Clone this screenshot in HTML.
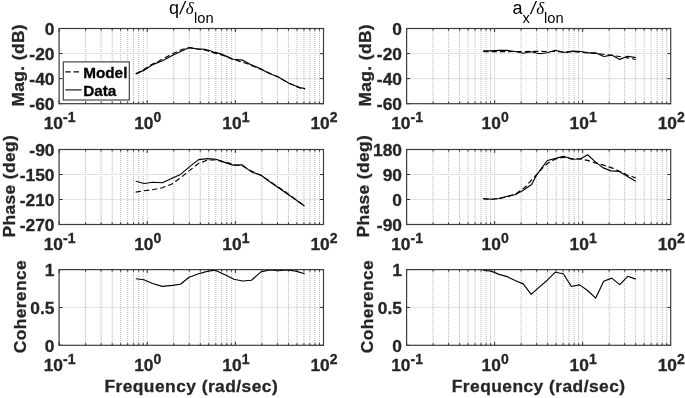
<!DOCTYPE html>
<html><head><meta charset="utf-8"><title>Frequency response</title>
<style>
html,body{margin:0;padding:0;background:#fff;}
svg{display:block}
text{font-family:"Liberation Sans",sans-serif;fill:#262626;}
.b{font-weight:bold;font-size:17.4px;stroke:#262626;stroke-width:0.3px;}
.l{font-size:17.4px;letter-spacing:0.38px;}
.e{font-size:14px;}
.g{font-size:15.3px;fill:#000;stroke:#000;}
.t{font-size:18px;fill:#000;}
.s{font-size:14.7px;}
.d{font-family:"Liberation Serif",serif;font-style:italic;font-size:17px;}
</style></head><body>
<svg width="685" height="398" viewBox="0 0 685 398">
<rect width="685" height="398" fill="#fff"/>
<rect x="59.1" y="28.5" width="264.4" height="75.2" fill="#fff"/>
<line x1="85.63" y1="29" x2="85.63" y2="103.7" stroke="#adadad" stroke-width="0.9" stroke-dasharray="1 1"/>
<line x1="101.15" y1="29" x2="101.15" y2="103.7" stroke="#adadad" stroke-width="0.9" stroke-dasharray="1 1"/>
<line x1="112.16" y1="29" x2="112.16" y2="103.7" stroke="#adadad" stroke-width="0.9" stroke-dasharray="1 1"/>
<line x1="120.70" y1="29" x2="120.70" y2="103.7" stroke="#adadad" stroke-width="0.9" stroke-dasharray="1 1"/>
<line x1="127.68" y1="29" x2="127.68" y2="103.7" stroke="#adadad" stroke-width="0.9" stroke-dasharray="1 1"/>
<line x1="133.58" y1="29" x2="133.58" y2="103.7" stroke="#adadad" stroke-width="0.9" stroke-dasharray="1 1"/>
<line x1="138.69" y1="29" x2="138.69" y2="103.7" stroke="#adadad" stroke-width="0.9" stroke-dasharray="1 1"/>
<line x1="143.20" y1="29" x2="143.20" y2="103.7" stroke="#adadad" stroke-width="0.9" stroke-dasharray="1 1"/>
<line x1="173.76" y1="29" x2="173.76" y2="103.7" stroke="#adadad" stroke-width="0.9" stroke-dasharray="1 1"/>
<line x1="189.28" y1="29" x2="189.28" y2="103.7" stroke="#adadad" stroke-width="0.9" stroke-dasharray="1 1"/>
<line x1="200.29" y1="29" x2="200.29" y2="103.7" stroke="#adadad" stroke-width="0.9" stroke-dasharray="1 1"/>
<line x1="208.84" y1="29" x2="208.84" y2="103.7" stroke="#adadad" stroke-width="0.9" stroke-dasharray="1 1"/>
<line x1="215.81" y1="29" x2="215.81" y2="103.7" stroke="#adadad" stroke-width="0.9" stroke-dasharray="1 1"/>
<line x1="221.71" y1="29" x2="221.71" y2="103.7" stroke="#adadad" stroke-width="0.9" stroke-dasharray="1 1"/>
<line x1="226.83" y1="29" x2="226.83" y2="103.7" stroke="#adadad" stroke-width="0.9" stroke-dasharray="1 1"/>
<line x1="231.33" y1="29" x2="231.33" y2="103.7" stroke="#adadad" stroke-width="0.9" stroke-dasharray="1 1"/>
<line x1="261.90" y1="29" x2="261.90" y2="103.7" stroke="#adadad" stroke-width="0.9" stroke-dasharray="1 1"/>
<line x1="277.42" y1="29" x2="277.42" y2="103.7" stroke="#adadad" stroke-width="0.9" stroke-dasharray="1 1"/>
<line x1="288.43" y1="29" x2="288.43" y2="103.7" stroke="#adadad" stroke-width="0.9" stroke-dasharray="1 1"/>
<line x1="296.97" y1="29" x2="296.97" y2="103.7" stroke="#adadad" stroke-width="0.9" stroke-dasharray="1 1"/>
<line x1="303.95" y1="29" x2="303.95" y2="103.7" stroke="#adadad" stroke-width="0.9" stroke-dasharray="1 1"/>
<line x1="309.85" y1="29" x2="309.85" y2="103.7" stroke="#adadad" stroke-width="0.9" stroke-dasharray="1 1"/>
<line x1="314.96" y1="29" x2="314.96" y2="103.7" stroke="#adadad" stroke-width="0.9" stroke-dasharray="1 1"/>
<line x1="319.47" y1="29" x2="319.47" y2="103.7" stroke="#adadad" stroke-width="0.9" stroke-dasharray="1 1"/>
<line x1="147.23" y1="28.5" x2="147.23" y2="103.7" stroke="#e2e2e2" stroke-width="1"/>
<line x1="235.37" y1="28.5" x2="235.37" y2="103.7" stroke="#e2e2e2" stroke-width="1"/>
<line x1="59.1" y1="53.57" x2="323.5" y2="53.57" stroke="#e2e2e2" stroke-width="1"/>
<line x1="59.1" y1="78.63" x2="323.5" y2="78.63" stroke="#e2e2e2" stroke-width="1"/>
<polyline points="135.8,73.9 143.8,69.5 152.1,64.2 159.0,60.9 166.6,56.9 174.2,52.9 181.8,49.5 189.4,47.6 196.4,48.9 204.7,50.0 210.2,51.6 215.7,53.4 223.3,55.5 231.6,58.9 239.1,61.1 247.4,63.8 261.8,69.6 278.4,77.1 288.9,83.3 301.7,88.6 305.1,88.9" fill="none" stroke="#000" stroke-width="1.15" stroke-linejoin="round" stroke-dasharray="5.3 3"/>
<polyline points="135.8,73.9 143.8,70.4 152.1,64.9 162.5,60.7 174.2,54.5 189.4,47.6 196.4,48.7 204.7,49.4 210.2,50.8 215.0,52.7 215.0,52.4 221.0,53.9 227.1,56.6 233.1,59.2 242.2,60.1 249.7,64.1 261.8,69.4 269.3,73.5 278.4,77.0 288.9,83.3 299.5,87.5 305.1,88.6" fill="none" stroke="#000" stroke-width="1.15" stroke-linejoin="round"/>
<line x1="59.10" y1="103.7" x2="59.10" y2="100.3" stroke="#262626" stroke-width="1"/>
<line x1="59.10" y1="28.5" x2="59.10" y2="31.9" stroke="#262626" stroke-width="1"/>
<line x1="85.63" y1="103.7" x2="85.63" y2="101.60000000000001" stroke="#262626" stroke-width="1"/>
<line x1="85.63" y1="28.5" x2="85.63" y2="30.6" stroke="#262626" stroke-width="1"/>
<line x1="101.15" y1="103.7" x2="101.15" y2="101.60000000000001" stroke="#262626" stroke-width="1"/>
<line x1="101.15" y1="28.5" x2="101.15" y2="30.6" stroke="#262626" stroke-width="1"/>
<line x1="112.16" y1="103.7" x2="112.16" y2="101.60000000000001" stroke="#262626" stroke-width="1"/>
<line x1="112.16" y1="28.5" x2="112.16" y2="30.6" stroke="#262626" stroke-width="1"/>
<line x1="120.70" y1="103.7" x2="120.70" y2="101.60000000000001" stroke="#262626" stroke-width="1"/>
<line x1="120.70" y1="28.5" x2="120.70" y2="30.6" stroke="#262626" stroke-width="1"/>
<line x1="127.68" y1="103.7" x2="127.68" y2="101.60000000000001" stroke="#262626" stroke-width="1"/>
<line x1="127.68" y1="28.5" x2="127.68" y2="30.6" stroke="#262626" stroke-width="1"/>
<line x1="133.58" y1="103.7" x2="133.58" y2="101.60000000000001" stroke="#262626" stroke-width="1"/>
<line x1="133.58" y1="28.5" x2="133.58" y2="30.6" stroke="#262626" stroke-width="1"/>
<line x1="138.69" y1="103.7" x2="138.69" y2="101.60000000000001" stroke="#262626" stroke-width="1"/>
<line x1="138.69" y1="28.5" x2="138.69" y2="30.6" stroke="#262626" stroke-width="1"/>
<line x1="143.20" y1="103.7" x2="143.20" y2="101.60000000000001" stroke="#262626" stroke-width="1"/>
<line x1="143.20" y1="28.5" x2="143.20" y2="30.6" stroke="#262626" stroke-width="1"/>
<line x1="147.23" y1="103.7" x2="147.23" y2="100.3" stroke="#262626" stroke-width="1"/>
<line x1="147.23" y1="28.5" x2="147.23" y2="31.9" stroke="#262626" stroke-width="1"/>
<line x1="173.76" y1="103.7" x2="173.76" y2="101.60000000000001" stroke="#262626" stroke-width="1"/>
<line x1="173.76" y1="28.5" x2="173.76" y2="30.6" stroke="#262626" stroke-width="1"/>
<line x1="189.28" y1="103.7" x2="189.28" y2="101.60000000000001" stroke="#262626" stroke-width="1"/>
<line x1="189.28" y1="28.5" x2="189.28" y2="30.6" stroke="#262626" stroke-width="1"/>
<line x1="200.29" y1="103.7" x2="200.29" y2="101.60000000000001" stroke="#262626" stroke-width="1"/>
<line x1="200.29" y1="28.5" x2="200.29" y2="30.6" stroke="#262626" stroke-width="1"/>
<line x1="208.84" y1="103.7" x2="208.84" y2="101.60000000000001" stroke="#262626" stroke-width="1"/>
<line x1="208.84" y1="28.5" x2="208.84" y2="30.6" stroke="#262626" stroke-width="1"/>
<line x1="215.81" y1="103.7" x2="215.81" y2="101.60000000000001" stroke="#262626" stroke-width="1"/>
<line x1="215.81" y1="28.5" x2="215.81" y2="30.6" stroke="#262626" stroke-width="1"/>
<line x1="221.71" y1="103.7" x2="221.71" y2="101.60000000000001" stroke="#262626" stroke-width="1"/>
<line x1="221.71" y1="28.5" x2="221.71" y2="30.6" stroke="#262626" stroke-width="1"/>
<line x1="226.83" y1="103.7" x2="226.83" y2="101.60000000000001" stroke="#262626" stroke-width="1"/>
<line x1="226.83" y1="28.5" x2="226.83" y2="30.6" stroke="#262626" stroke-width="1"/>
<line x1="231.33" y1="103.7" x2="231.33" y2="101.60000000000001" stroke="#262626" stroke-width="1"/>
<line x1="231.33" y1="28.5" x2="231.33" y2="30.6" stroke="#262626" stroke-width="1"/>
<line x1="235.37" y1="103.7" x2="235.37" y2="100.3" stroke="#262626" stroke-width="1"/>
<line x1="235.37" y1="28.5" x2="235.37" y2="31.9" stroke="#262626" stroke-width="1"/>
<line x1="261.90" y1="103.7" x2="261.90" y2="101.60000000000001" stroke="#262626" stroke-width="1"/>
<line x1="261.90" y1="28.5" x2="261.90" y2="30.6" stroke="#262626" stroke-width="1"/>
<line x1="277.42" y1="103.7" x2="277.42" y2="101.60000000000001" stroke="#262626" stroke-width="1"/>
<line x1="277.42" y1="28.5" x2="277.42" y2="30.6" stroke="#262626" stroke-width="1"/>
<line x1="288.43" y1="103.7" x2="288.43" y2="101.60000000000001" stroke="#262626" stroke-width="1"/>
<line x1="288.43" y1="28.5" x2="288.43" y2="30.6" stroke="#262626" stroke-width="1"/>
<line x1="296.97" y1="103.7" x2="296.97" y2="101.60000000000001" stroke="#262626" stroke-width="1"/>
<line x1="296.97" y1="28.5" x2="296.97" y2="30.6" stroke="#262626" stroke-width="1"/>
<line x1="303.95" y1="103.7" x2="303.95" y2="101.60000000000001" stroke="#262626" stroke-width="1"/>
<line x1="303.95" y1="28.5" x2="303.95" y2="30.6" stroke="#262626" stroke-width="1"/>
<line x1="309.85" y1="103.7" x2="309.85" y2="101.60000000000001" stroke="#262626" stroke-width="1"/>
<line x1="309.85" y1="28.5" x2="309.85" y2="30.6" stroke="#262626" stroke-width="1"/>
<line x1="314.96" y1="103.7" x2="314.96" y2="101.60000000000001" stroke="#262626" stroke-width="1"/>
<line x1="314.96" y1="28.5" x2="314.96" y2="30.6" stroke="#262626" stroke-width="1"/>
<line x1="319.47" y1="103.7" x2="319.47" y2="101.60000000000001" stroke="#262626" stroke-width="1"/>
<line x1="319.47" y1="28.5" x2="319.47" y2="30.6" stroke="#262626" stroke-width="1"/>
<line x1="59.1" y1="28.50" x2="62.5" y2="28.50" stroke="#262626" stroke-width="1"/>
<line x1="323.5" y1="28.50" x2="320.1" y2="28.50" stroke="#262626" stroke-width="1"/>
<text x="54.5" y="34.80" text-anchor="end" class="b">0</text>
<line x1="59.1" y1="53.57" x2="62.5" y2="53.57" stroke="#262626" stroke-width="1"/>
<line x1="323.5" y1="53.57" x2="320.1" y2="53.57" stroke="#262626" stroke-width="1"/>
<text x="54.5" y="59.87" text-anchor="end" class="b">-20</text>
<line x1="59.1" y1="78.63" x2="62.5" y2="78.63" stroke="#262626" stroke-width="1"/>
<line x1="323.5" y1="78.63" x2="320.1" y2="78.63" stroke="#262626" stroke-width="1"/>
<text x="54.5" y="84.93" text-anchor="end" class="b">-40</text>
<line x1="59.1" y1="103.70" x2="62.5" y2="103.70" stroke="#262626" stroke-width="1"/>
<line x1="323.5" y1="103.70" x2="320.1" y2="103.70" stroke="#262626" stroke-width="1"/>
<text x="54.5" y="110.00" text-anchor="end" class="b">-60</text>
<rect x="59.1" y="28.5" width="264.4" height="75.2" fill="none" stroke="#3c3c3c" stroke-width="1.2"/>
<text x="59.60" y="129.20" text-anchor="middle" class="b">10<tspan dy="-7.1" class="e">-1</tspan></text>
<text x="147.73" y="129.20" text-anchor="middle" class="b">10<tspan dy="-7.1" class="e">0</tspan></text>
<text x="235.87" y="129.20" text-anchor="middle" class="b">10<tspan dy="-7.1" class="e">1</tspan></text>
<text x="324.00" y="129.20" text-anchor="middle" class="b">10<tspan dy="-7.1" class="e">2</tspan></text>
<text transform="translate(23.6,65.3) rotate(-90)" text-anchor="middle" class="b l">Mag. (dB)</text>
<rect x="59.1" y="149.5" width="264.4" height="75.0" fill="#fff"/>
<line x1="85.63" y1="150" x2="85.63" y2="224.5" stroke="#adadad" stroke-width="0.9" stroke-dasharray="1 1"/>
<line x1="101.15" y1="150" x2="101.15" y2="224.5" stroke="#adadad" stroke-width="0.9" stroke-dasharray="1 1"/>
<line x1="112.16" y1="150" x2="112.16" y2="224.5" stroke="#adadad" stroke-width="0.9" stroke-dasharray="1 1"/>
<line x1="120.70" y1="150" x2="120.70" y2="224.5" stroke="#adadad" stroke-width="0.9" stroke-dasharray="1 1"/>
<line x1="127.68" y1="150" x2="127.68" y2="224.5" stroke="#adadad" stroke-width="0.9" stroke-dasharray="1 1"/>
<line x1="133.58" y1="150" x2="133.58" y2="224.5" stroke="#adadad" stroke-width="0.9" stroke-dasharray="1 1"/>
<line x1="138.69" y1="150" x2="138.69" y2="224.5" stroke="#adadad" stroke-width="0.9" stroke-dasharray="1 1"/>
<line x1="143.20" y1="150" x2="143.20" y2="224.5" stroke="#adadad" stroke-width="0.9" stroke-dasharray="1 1"/>
<line x1="173.76" y1="150" x2="173.76" y2="224.5" stroke="#adadad" stroke-width="0.9" stroke-dasharray="1 1"/>
<line x1="189.28" y1="150" x2="189.28" y2="224.5" stroke="#adadad" stroke-width="0.9" stroke-dasharray="1 1"/>
<line x1="200.29" y1="150" x2="200.29" y2="224.5" stroke="#adadad" stroke-width="0.9" stroke-dasharray="1 1"/>
<line x1="208.84" y1="150" x2="208.84" y2="224.5" stroke="#adadad" stroke-width="0.9" stroke-dasharray="1 1"/>
<line x1="215.81" y1="150" x2="215.81" y2="224.5" stroke="#adadad" stroke-width="0.9" stroke-dasharray="1 1"/>
<line x1="221.71" y1="150" x2="221.71" y2="224.5" stroke="#adadad" stroke-width="0.9" stroke-dasharray="1 1"/>
<line x1="226.83" y1="150" x2="226.83" y2="224.5" stroke="#adadad" stroke-width="0.9" stroke-dasharray="1 1"/>
<line x1="231.33" y1="150" x2="231.33" y2="224.5" stroke="#adadad" stroke-width="0.9" stroke-dasharray="1 1"/>
<line x1="261.90" y1="150" x2="261.90" y2="224.5" stroke="#adadad" stroke-width="0.9" stroke-dasharray="1 1"/>
<line x1="277.42" y1="150" x2="277.42" y2="224.5" stroke="#adadad" stroke-width="0.9" stroke-dasharray="1 1"/>
<line x1="288.43" y1="150" x2="288.43" y2="224.5" stroke="#adadad" stroke-width="0.9" stroke-dasharray="1 1"/>
<line x1="296.97" y1="150" x2="296.97" y2="224.5" stroke="#adadad" stroke-width="0.9" stroke-dasharray="1 1"/>
<line x1="303.95" y1="150" x2="303.95" y2="224.5" stroke="#adadad" stroke-width="0.9" stroke-dasharray="1 1"/>
<line x1="309.85" y1="150" x2="309.85" y2="224.5" stroke="#adadad" stroke-width="0.9" stroke-dasharray="1 1"/>
<line x1="314.96" y1="150" x2="314.96" y2="224.5" stroke="#adadad" stroke-width="0.9" stroke-dasharray="1 1"/>
<line x1="319.47" y1="150" x2="319.47" y2="224.5" stroke="#adadad" stroke-width="0.9" stroke-dasharray="1 1"/>
<line x1="147.23" y1="149.5" x2="147.23" y2="224.5" stroke="#e2e2e2" stroke-width="1"/>
<line x1="235.37" y1="149.5" x2="235.37" y2="224.5" stroke="#e2e2e2" stroke-width="1"/>
<line x1="59.1" y1="174.50" x2="323.5" y2="174.50" stroke="#e2e2e2" stroke-width="1"/>
<line x1="59.1" y1="199.50" x2="323.5" y2="199.50" stroke="#e2e2e2" stroke-width="1"/>
<polyline points="135.7,192.1 144.3,190.7 152.6,189.7 162.4,187.7 171.5,184.2 180.5,177.9 190.3,169.9 198.6,163.4 207.7,160.1 216.0,159.8 223.5,161.9 229.1,163.1 235.1,165.1 242.1,165.7 252.2,171.4 261.2,175.6 268.3,180.2 274.3,184.4 282.4,189.7 288.4,194.1 296.5,200.1 304.5,206.0" fill="none" stroke="#000" stroke-width="1.15" stroke-linejoin="round" stroke-dasharray="5.3 3"/>
<polyline points="135.7,181.2 144.3,183.5 152.6,182.2 162.4,182.7 171.5,178.5 180.5,174.4 190.3,166.1 198.6,159.6 207.7,158.6 216.0,159.3 223.5,161.9 227.0,163.1 233.1,165.1 242.1,164.7 246.2,168.1 252.2,172.2 261.2,175.2 268.3,180.8 276.3,186.2 286.4,193.3 296.5,200.3 304.5,206.0" fill="none" stroke="#000" stroke-width="1.15" stroke-linejoin="round"/>
<line x1="59.10" y1="224.5" x2="59.10" y2="221.1" stroke="#262626" stroke-width="1"/>
<line x1="59.10" y1="149.5" x2="59.10" y2="152.9" stroke="#262626" stroke-width="1"/>
<line x1="85.63" y1="224.5" x2="85.63" y2="222.4" stroke="#262626" stroke-width="1"/>
<line x1="85.63" y1="149.5" x2="85.63" y2="151.6" stroke="#262626" stroke-width="1"/>
<line x1="101.15" y1="224.5" x2="101.15" y2="222.4" stroke="#262626" stroke-width="1"/>
<line x1="101.15" y1="149.5" x2="101.15" y2="151.6" stroke="#262626" stroke-width="1"/>
<line x1="112.16" y1="224.5" x2="112.16" y2="222.4" stroke="#262626" stroke-width="1"/>
<line x1="112.16" y1="149.5" x2="112.16" y2="151.6" stroke="#262626" stroke-width="1"/>
<line x1="120.70" y1="224.5" x2="120.70" y2="222.4" stroke="#262626" stroke-width="1"/>
<line x1="120.70" y1="149.5" x2="120.70" y2="151.6" stroke="#262626" stroke-width="1"/>
<line x1="127.68" y1="224.5" x2="127.68" y2="222.4" stroke="#262626" stroke-width="1"/>
<line x1="127.68" y1="149.5" x2="127.68" y2="151.6" stroke="#262626" stroke-width="1"/>
<line x1="133.58" y1="224.5" x2="133.58" y2="222.4" stroke="#262626" stroke-width="1"/>
<line x1="133.58" y1="149.5" x2="133.58" y2="151.6" stroke="#262626" stroke-width="1"/>
<line x1="138.69" y1="224.5" x2="138.69" y2="222.4" stroke="#262626" stroke-width="1"/>
<line x1="138.69" y1="149.5" x2="138.69" y2="151.6" stroke="#262626" stroke-width="1"/>
<line x1="143.20" y1="224.5" x2="143.20" y2="222.4" stroke="#262626" stroke-width="1"/>
<line x1="143.20" y1="149.5" x2="143.20" y2="151.6" stroke="#262626" stroke-width="1"/>
<line x1="147.23" y1="224.5" x2="147.23" y2="221.1" stroke="#262626" stroke-width="1"/>
<line x1="147.23" y1="149.5" x2="147.23" y2="152.9" stroke="#262626" stroke-width="1"/>
<line x1="173.76" y1="224.5" x2="173.76" y2="222.4" stroke="#262626" stroke-width="1"/>
<line x1="173.76" y1="149.5" x2="173.76" y2="151.6" stroke="#262626" stroke-width="1"/>
<line x1="189.28" y1="224.5" x2="189.28" y2="222.4" stroke="#262626" stroke-width="1"/>
<line x1="189.28" y1="149.5" x2="189.28" y2="151.6" stroke="#262626" stroke-width="1"/>
<line x1="200.29" y1="224.5" x2="200.29" y2="222.4" stroke="#262626" stroke-width="1"/>
<line x1="200.29" y1="149.5" x2="200.29" y2="151.6" stroke="#262626" stroke-width="1"/>
<line x1="208.84" y1="224.5" x2="208.84" y2="222.4" stroke="#262626" stroke-width="1"/>
<line x1="208.84" y1="149.5" x2="208.84" y2="151.6" stroke="#262626" stroke-width="1"/>
<line x1="215.81" y1="224.5" x2="215.81" y2="222.4" stroke="#262626" stroke-width="1"/>
<line x1="215.81" y1="149.5" x2="215.81" y2="151.6" stroke="#262626" stroke-width="1"/>
<line x1="221.71" y1="224.5" x2="221.71" y2="222.4" stroke="#262626" stroke-width="1"/>
<line x1="221.71" y1="149.5" x2="221.71" y2="151.6" stroke="#262626" stroke-width="1"/>
<line x1="226.83" y1="224.5" x2="226.83" y2="222.4" stroke="#262626" stroke-width="1"/>
<line x1="226.83" y1="149.5" x2="226.83" y2="151.6" stroke="#262626" stroke-width="1"/>
<line x1="231.33" y1="224.5" x2="231.33" y2="222.4" stroke="#262626" stroke-width="1"/>
<line x1="231.33" y1="149.5" x2="231.33" y2="151.6" stroke="#262626" stroke-width="1"/>
<line x1="235.37" y1="224.5" x2="235.37" y2="221.1" stroke="#262626" stroke-width="1"/>
<line x1="235.37" y1="149.5" x2="235.37" y2="152.9" stroke="#262626" stroke-width="1"/>
<line x1="261.90" y1="224.5" x2="261.90" y2="222.4" stroke="#262626" stroke-width="1"/>
<line x1="261.90" y1="149.5" x2="261.90" y2="151.6" stroke="#262626" stroke-width="1"/>
<line x1="277.42" y1="224.5" x2="277.42" y2="222.4" stroke="#262626" stroke-width="1"/>
<line x1="277.42" y1="149.5" x2="277.42" y2="151.6" stroke="#262626" stroke-width="1"/>
<line x1="288.43" y1="224.5" x2="288.43" y2="222.4" stroke="#262626" stroke-width="1"/>
<line x1="288.43" y1="149.5" x2="288.43" y2="151.6" stroke="#262626" stroke-width="1"/>
<line x1="296.97" y1="224.5" x2="296.97" y2="222.4" stroke="#262626" stroke-width="1"/>
<line x1="296.97" y1="149.5" x2="296.97" y2="151.6" stroke="#262626" stroke-width="1"/>
<line x1="303.95" y1="224.5" x2="303.95" y2="222.4" stroke="#262626" stroke-width="1"/>
<line x1="303.95" y1="149.5" x2="303.95" y2="151.6" stroke="#262626" stroke-width="1"/>
<line x1="309.85" y1="224.5" x2="309.85" y2="222.4" stroke="#262626" stroke-width="1"/>
<line x1="309.85" y1="149.5" x2="309.85" y2="151.6" stroke="#262626" stroke-width="1"/>
<line x1="314.96" y1="224.5" x2="314.96" y2="222.4" stroke="#262626" stroke-width="1"/>
<line x1="314.96" y1="149.5" x2="314.96" y2="151.6" stroke="#262626" stroke-width="1"/>
<line x1="319.47" y1="224.5" x2="319.47" y2="222.4" stroke="#262626" stroke-width="1"/>
<line x1="319.47" y1="149.5" x2="319.47" y2="151.6" stroke="#262626" stroke-width="1"/>
<line x1="59.1" y1="149.50" x2="62.5" y2="149.50" stroke="#262626" stroke-width="1"/>
<line x1="323.5" y1="149.50" x2="320.1" y2="149.50" stroke="#262626" stroke-width="1"/>
<text x="54.5" y="155.80" text-anchor="end" class="b">-90</text>
<line x1="59.1" y1="174.50" x2="62.5" y2="174.50" stroke="#262626" stroke-width="1"/>
<line x1="323.5" y1="174.50" x2="320.1" y2="174.50" stroke="#262626" stroke-width="1"/>
<text x="54.5" y="180.80" text-anchor="end" class="b">-150</text>
<line x1="59.1" y1="199.50" x2="62.5" y2="199.50" stroke="#262626" stroke-width="1"/>
<line x1="323.5" y1="199.50" x2="320.1" y2="199.50" stroke="#262626" stroke-width="1"/>
<text x="54.5" y="205.80" text-anchor="end" class="b">-210</text>
<line x1="59.1" y1="224.50" x2="62.5" y2="224.50" stroke="#262626" stroke-width="1"/>
<line x1="323.5" y1="224.50" x2="320.1" y2="224.50" stroke="#262626" stroke-width="1"/>
<text x="54.5" y="230.80" text-anchor="end" class="b">-270</text>
<rect x="59.1" y="149.5" width="264.4" height="75.0" fill="none" stroke="#3c3c3c" stroke-width="1.2"/>
<text x="59.60" y="250.00" text-anchor="middle" class="b">10<tspan dy="-7.1" class="e">-1</tspan></text>
<text x="147.73" y="250.00" text-anchor="middle" class="b">10<tspan dy="-7.1" class="e">0</tspan></text>
<text x="235.87" y="250.00" text-anchor="middle" class="b">10<tspan dy="-7.1" class="e">1</tspan></text>
<text x="324.00" y="250.00" text-anchor="middle" class="b">10<tspan dy="-7.1" class="e">2</tspan></text>
<text transform="translate(15.100000000000001,186.2) rotate(-90)" text-anchor="middle" class="b l">Phase (deg)</text>
<rect x="59.1" y="269.6" width="264.4" height="75.69999999999999" fill="#fff"/>
<line x1="85.63" y1="270" x2="85.63" y2="345.3" stroke="#adadad" stroke-width="0.9" stroke-dasharray="1 1"/>
<line x1="101.15" y1="270" x2="101.15" y2="345.3" stroke="#adadad" stroke-width="0.9" stroke-dasharray="1 1"/>
<line x1="112.16" y1="270" x2="112.16" y2="345.3" stroke="#adadad" stroke-width="0.9" stroke-dasharray="1 1"/>
<line x1="120.70" y1="270" x2="120.70" y2="345.3" stroke="#adadad" stroke-width="0.9" stroke-dasharray="1 1"/>
<line x1="127.68" y1="270" x2="127.68" y2="345.3" stroke="#adadad" stroke-width="0.9" stroke-dasharray="1 1"/>
<line x1="133.58" y1="270" x2="133.58" y2="345.3" stroke="#adadad" stroke-width="0.9" stroke-dasharray="1 1"/>
<line x1="138.69" y1="270" x2="138.69" y2="345.3" stroke="#adadad" stroke-width="0.9" stroke-dasharray="1 1"/>
<line x1="143.20" y1="270" x2="143.20" y2="345.3" stroke="#adadad" stroke-width="0.9" stroke-dasharray="1 1"/>
<line x1="173.76" y1="270" x2="173.76" y2="345.3" stroke="#adadad" stroke-width="0.9" stroke-dasharray="1 1"/>
<line x1="189.28" y1="270" x2="189.28" y2="345.3" stroke="#adadad" stroke-width="0.9" stroke-dasharray="1 1"/>
<line x1="200.29" y1="270" x2="200.29" y2="345.3" stroke="#adadad" stroke-width="0.9" stroke-dasharray="1 1"/>
<line x1="208.84" y1="270" x2="208.84" y2="345.3" stroke="#adadad" stroke-width="0.9" stroke-dasharray="1 1"/>
<line x1="215.81" y1="270" x2="215.81" y2="345.3" stroke="#adadad" stroke-width="0.9" stroke-dasharray="1 1"/>
<line x1="221.71" y1="270" x2="221.71" y2="345.3" stroke="#adadad" stroke-width="0.9" stroke-dasharray="1 1"/>
<line x1="226.83" y1="270" x2="226.83" y2="345.3" stroke="#adadad" stroke-width="0.9" stroke-dasharray="1 1"/>
<line x1="231.33" y1="270" x2="231.33" y2="345.3" stroke="#adadad" stroke-width="0.9" stroke-dasharray="1 1"/>
<line x1="261.90" y1="270" x2="261.90" y2="345.3" stroke="#adadad" stroke-width="0.9" stroke-dasharray="1 1"/>
<line x1="277.42" y1="270" x2="277.42" y2="345.3" stroke="#adadad" stroke-width="0.9" stroke-dasharray="1 1"/>
<line x1="288.43" y1="270" x2="288.43" y2="345.3" stroke="#adadad" stroke-width="0.9" stroke-dasharray="1 1"/>
<line x1="296.97" y1="270" x2="296.97" y2="345.3" stroke="#adadad" stroke-width="0.9" stroke-dasharray="1 1"/>
<line x1="303.95" y1="270" x2="303.95" y2="345.3" stroke="#adadad" stroke-width="0.9" stroke-dasharray="1 1"/>
<line x1="309.85" y1="270" x2="309.85" y2="345.3" stroke="#adadad" stroke-width="0.9" stroke-dasharray="1 1"/>
<line x1="314.96" y1="270" x2="314.96" y2="345.3" stroke="#adadad" stroke-width="0.9" stroke-dasharray="1 1"/>
<line x1="319.47" y1="270" x2="319.47" y2="345.3" stroke="#adadad" stroke-width="0.9" stroke-dasharray="1 1"/>
<line x1="147.23" y1="269.6" x2="147.23" y2="345.3" stroke="#e2e2e2" stroke-width="1"/>
<line x1="235.37" y1="269.6" x2="235.37" y2="345.3" stroke="#e2e2e2" stroke-width="1"/>
<line x1="59.1" y1="307.45" x2="323.5" y2="307.45" stroke="#e2e2e2" stroke-width="1"/>
<polyline points="135.8,278.8 143.9,279.8 152.6,283.5 162.1,286.4 172.3,285.4 180.4,284.2 189.1,277.3 198.6,273.7 208.1,271.1 215.4,270.3 221.2,272.9 226.6,275.6 233.9,279.2 242.6,281.0 251.4,280.2 260.9,271.9 269.6,270.0 278.4,270.8 287.1,270.0 295.9,271.1 304.7,273.7" fill="none" stroke="#000" stroke-width="1.15" stroke-linejoin="round"/>
<line x1="59.10" y1="345.3" x2="59.10" y2="341.90000000000003" stroke="#262626" stroke-width="1"/>
<line x1="59.10" y1="269.6" x2="59.10" y2="273.0" stroke="#262626" stroke-width="1"/>
<line x1="85.63" y1="345.3" x2="85.63" y2="343.2" stroke="#262626" stroke-width="1"/>
<line x1="85.63" y1="269.6" x2="85.63" y2="271.70000000000005" stroke="#262626" stroke-width="1"/>
<line x1="101.15" y1="345.3" x2="101.15" y2="343.2" stroke="#262626" stroke-width="1"/>
<line x1="101.15" y1="269.6" x2="101.15" y2="271.70000000000005" stroke="#262626" stroke-width="1"/>
<line x1="112.16" y1="345.3" x2="112.16" y2="343.2" stroke="#262626" stroke-width="1"/>
<line x1="112.16" y1="269.6" x2="112.16" y2="271.70000000000005" stroke="#262626" stroke-width="1"/>
<line x1="120.70" y1="345.3" x2="120.70" y2="343.2" stroke="#262626" stroke-width="1"/>
<line x1="120.70" y1="269.6" x2="120.70" y2="271.70000000000005" stroke="#262626" stroke-width="1"/>
<line x1="127.68" y1="345.3" x2="127.68" y2="343.2" stroke="#262626" stroke-width="1"/>
<line x1="127.68" y1="269.6" x2="127.68" y2="271.70000000000005" stroke="#262626" stroke-width="1"/>
<line x1="133.58" y1="345.3" x2="133.58" y2="343.2" stroke="#262626" stroke-width="1"/>
<line x1="133.58" y1="269.6" x2="133.58" y2="271.70000000000005" stroke="#262626" stroke-width="1"/>
<line x1="138.69" y1="345.3" x2="138.69" y2="343.2" stroke="#262626" stroke-width="1"/>
<line x1="138.69" y1="269.6" x2="138.69" y2="271.70000000000005" stroke="#262626" stroke-width="1"/>
<line x1="143.20" y1="345.3" x2="143.20" y2="343.2" stroke="#262626" stroke-width="1"/>
<line x1="143.20" y1="269.6" x2="143.20" y2="271.70000000000005" stroke="#262626" stroke-width="1"/>
<line x1="147.23" y1="345.3" x2="147.23" y2="341.90000000000003" stroke="#262626" stroke-width="1"/>
<line x1="147.23" y1="269.6" x2="147.23" y2="273.0" stroke="#262626" stroke-width="1"/>
<line x1="173.76" y1="345.3" x2="173.76" y2="343.2" stroke="#262626" stroke-width="1"/>
<line x1="173.76" y1="269.6" x2="173.76" y2="271.70000000000005" stroke="#262626" stroke-width="1"/>
<line x1="189.28" y1="345.3" x2="189.28" y2="343.2" stroke="#262626" stroke-width="1"/>
<line x1="189.28" y1="269.6" x2="189.28" y2="271.70000000000005" stroke="#262626" stroke-width="1"/>
<line x1="200.29" y1="345.3" x2="200.29" y2="343.2" stroke="#262626" stroke-width="1"/>
<line x1="200.29" y1="269.6" x2="200.29" y2="271.70000000000005" stroke="#262626" stroke-width="1"/>
<line x1="208.84" y1="345.3" x2="208.84" y2="343.2" stroke="#262626" stroke-width="1"/>
<line x1="208.84" y1="269.6" x2="208.84" y2="271.70000000000005" stroke="#262626" stroke-width="1"/>
<line x1="215.81" y1="345.3" x2="215.81" y2="343.2" stroke="#262626" stroke-width="1"/>
<line x1="215.81" y1="269.6" x2="215.81" y2="271.70000000000005" stroke="#262626" stroke-width="1"/>
<line x1="221.71" y1="345.3" x2="221.71" y2="343.2" stroke="#262626" stroke-width="1"/>
<line x1="221.71" y1="269.6" x2="221.71" y2="271.70000000000005" stroke="#262626" stroke-width="1"/>
<line x1="226.83" y1="345.3" x2="226.83" y2="343.2" stroke="#262626" stroke-width="1"/>
<line x1="226.83" y1="269.6" x2="226.83" y2="271.70000000000005" stroke="#262626" stroke-width="1"/>
<line x1="231.33" y1="345.3" x2="231.33" y2="343.2" stroke="#262626" stroke-width="1"/>
<line x1="231.33" y1="269.6" x2="231.33" y2="271.70000000000005" stroke="#262626" stroke-width="1"/>
<line x1="235.37" y1="345.3" x2="235.37" y2="341.90000000000003" stroke="#262626" stroke-width="1"/>
<line x1="235.37" y1="269.6" x2="235.37" y2="273.0" stroke="#262626" stroke-width="1"/>
<line x1="261.90" y1="345.3" x2="261.90" y2="343.2" stroke="#262626" stroke-width="1"/>
<line x1="261.90" y1="269.6" x2="261.90" y2="271.70000000000005" stroke="#262626" stroke-width="1"/>
<line x1="277.42" y1="345.3" x2="277.42" y2="343.2" stroke="#262626" stroke-width="1"/>
<line x1="277.42" y1="269.6" x2="277.42" y2="271.70000000000005" stroke="#262626" stroke-width="1"/>
<line x1="288.43" y1="345.3" x2="288.43" y2="343.2" stroke="#262626" stroke-width="1"/>
<line x1="288.43" y1="269.6" x2="288.43" y2="271.70000000000005" stroke="#262626" stroke-width="1"/>
<line x1="296.97" y1="345.3" x2="296.97" y2="343.2" stroke="#262626" stroke-width="1"/>
<line x1="296.97" y1="269.6" x2="296.97" y2="271.70000000000005" stroke="#262626" stroke-width="1"/>
<line x1="303.95" y1="345.3" x2="303.95" y2="343.2" stroke="#262626" stroke-width="1"/>
<line x1="303.95" y1="269.6" x2="303.95" y2="271.70000000000005" stroke="#262626" stroke-width="1"/>
<line x1="309.85" y1="345.3" x2="309.85" y2="343.2" stroke="#262626" stroke-width="1"/>
<line x1="309.85" y1="269.6" x2="309.85" y2="271.70000000000005" stroke="#262626" stroke-width="1"/>
<line x1="314.96" y1="345.3" x2="314.96" y2="343.2" stroke="#262626" stroke-width="1"/>
<line x1="314.96" y1="269.6" x2="314.96" y2="271.70000000000005" stroke="#262626" stroke-width="1"/>
<line x1="319.47" y1="345.3" x2="319.47" y2="343.2" stroke="#262626" stroke-width="1"/>
<line x1="319.47" y1="269.6" x2="319.47" y2="271.70000000000005" stroke="#262626" stroke-width="1"/>
<line x1="59.1" y1="269.60" x2="62.5" y2="269.60" stroke="#262626" stroke-width="1"/>
<line x1="323.5" y1="269.60" x2="320.1" y2="269.60" stroke="#262626" stroke-width="1"/>
<text x="54.5" y="275.90" text-anchor="end" class="b">1</text>
<line x1="59.1" y1="307.45" x2="62.5" y2="307.45" stroke="#262626" stroke-width="1"/>
<line x1="323.5" y1="307.45" x2="320.1" y2="307.45" stroke="#262626" stroke-width="1"/>
<text x="54.5" y="313.75" text-anchor="end" class="b">0.5</text>
<line x1="59.1" y1="345.30" x2="62.5" y2="345.30" stroke="#262626" stroke-width="1"/>
<line x1="323.5" y1="345.30" x2="320.1" y2="345.30" stroke="#262626" stroke-width="1"/>
<text x="54.5" y="351.60" text-anchor="end" class="b">0</text>
<rect x="59.1" y="269.6" width="264.4" height="75.69999999999999" fill="none" stroke="#3c3c3c" stroke-width="1.2"/>
<text x="59.60" y="370.80" text-anchor="middle" class="b">10<tspan dy="-7.1" class="e">-1</tspan></text>
<text x="147.73" y="370.80" text-anchor="middle" class="b">10<tspan dy="-7.1" class="e">0</tspan></text>
<text x="235.87" y="370.80" text-anchor="middle" class="b">10<tspan dy="-7.1" class="e">1</tspan></text>
<text x="324.00" y="370.80" text-anchor="middle" class="b">10<tspan dy="-7.1" class="e">2</tspan></text>
<text transform="translate(26.4,306.65000000000003) rotate(-90)" text-anchor="middle" class="b l">Coherence</text>
<text x="191.3" y="392.4" text-anchor="middle" class="b l" style="letter-spacing:0.45px">Frequency (rad/sec)</text>
<rect x="406.6" y="28.5" width="264.1" height="75.2" fill="#fff"/>
<line x1="433.10" y1="29" x2="433.10" y2="103.7" stroke="#adadad" stroke-width="0.9" stroke-dasharray="1 1"/>
<line x1="448.60" y1="29" x2="448.60" y2="103.7" stroke="#adadad" stroke-width="0.9" stroke-dasharray="1 1"/>
<line x1="459.60" y1="29" x2="459.60" y2="103.7" stroke="#adadad" stroke-width="0.9" stroke-dasharray="1 1"/>
<line x1="468.13" y1="29" x2="468.13" y2="103.7" stroke="#adadad" stroke-width="0.9" stroke-dasharray="1 1"/>
<line x1="475.10" y1="29" x2="475.10" y2="103.7" stroke="#adadad" stroke-width="0.9" stroke-dasharray="1 1"/>
<line x1="481.00" y1="29" x2="481.00" y2="103.7" stroke="#adadad" stroke-width="0.9" stroke-dasharray="1 1"/>
<line x1="486.10" y1="29" x2="486.10" y2="103.7" stroke="#adadad" stroke-width="0.9" stroke-dasharray="1 1"/>
<line x1="490.61" y1="29" x2="490.61" y2="103.7" stroke="#adadad" stroke-width="0.9" stroke-dasharray="1 1"/>
<line x1="521.13" y1="29" x2="521.13" y2="103.7" stroke="#adadad" stroke-width="0.9" stroke-dasharray="1 1"/>
<line x1="536.64" y1="29" x2="536.64" y2="103.7" stroke="#adadad" stroke-width="0.9" stroke-dasharray="1 1"/>
<line x1="547.63" y1="29" x2="547.63" y2="103.7" stroke="#adadad" stroke-width="0.9" stroke-dasharray="1 1"/>
<line x1="556.17" y1="29" x2="556.17" y2="103.7" stroke="#adadad" stroke-width="0.9" stroke-dasharray="1 1"/>
<line x1="563.14" y1="29" x2="563.14" y2="103.7" stroke="#adadad" stroke-width="0.9" stroke-dasharray="1 1"/>
<line x1="569.03" y1="29" x2="569.03" y2="103.7" stroke="#adadad" stroke-width="0.9" stroke-dasharray="1 1"/>
<line x1="574.14" y1="29" x2="574.14" y2="103.7" stroke="#adadad" stroke-width="0.9" stroke-dasharray="1 1"/>
<line x1="578.64" y1="29" x2="578.64" y2="103.7" stroke="#adadad" stroke-width="0.9" stroke-dasharray="1 1"/>
<line x1="609.17" y1="29" x2="609.17" y2="103.7" stroke="#adadad" stroke-width="0.9" stroke-dasharray="1 1"/>
<line x1="624.67" y1="29" x2="624.67" y2="103.7" stroke="#adadad" stroke-width="0.9" stroke-dasharray="1 1"/>
<line x1="635.67" y1="29" x2="635.67" y2="103.7" stroke="#adadad" stroke-width="0.9" stroke-dasharray="1 1"/>
<line x1="644.20" y1="29" x2="644.20" y2="103.7" stroke="#adadad" stroke-width="0.9" stroke-dasharray="1 1"/>
<line x1="651.17" y1="29" x2="651.17" y2="103.7" stroke="#adadad" stroke-width="0.9" stroke-dasharray="1 1"/>
<line x1="657.06" y1="29" x2="657.06" y2="103.7" stroke="#adadad" stroke-width="0.9" stroke-dasharray="1 1"/>
<line x1="662.17" y1="29" x2="662.17" y2="103.7" stroke="#adadad" stroke-width="0.9" stroke-dasharray="1 1"/>
<line x1="666.67" y1="29" x2="666.67" y2="103.7" stroke="#adadad" stroke-width="0.9" stroke-dasharray="1 1"/>
<line x1="494.63" y1="28.5" x2="494.63" y2="103.7" stroke="#e2e2e2" stroke-width="1"/>
<line x1="582.67" y1="28.5" x2="582.67" y2="103.7" stroke="#e2e2e2" stroke-width="1"/>
<line x1="406.6" y1="53.57" x2="670.7" y2="53.57" stroke="#e2e2e2" stroke-width="1"/>
<line x1="406.6" y1="78.63" x2="670.7" y2="78.63" stroke="#e2e2e2" stroke-width="1"/>
<polyline points="483.3,51.7 500.0,51.6 520.0,51.5 540.0,51.4 560.0,51.6 565.0,52.5 572.3,51.5 579.6,52.2 588.4,53.0 595.7,53.5 603.0,54.3 611.7,55.4 619.7,56.5 627.8,57.9 635.8,59.5" fill="none" stroke="#000" stroke-width="1.15" stroke-linejoin="round" stroke-dasharray="5.3 3"/>
<polyline points="483.0,50.8 491.1,50.9 499.1,50.4 507.1,50.4 515.1,51.5 523.2,53.2 531.2,51.8 539.2,53.7 547.3,52.8 555.3,50.3 563.3,52.2 565.0,52.2 572.3,51.1 581.1,51.5 588.4,52.8 595.7,52.8 603.7,56.5 611.7,55.1 619.7,59.4 627.8,56.2 635.8,57.6" fill="none" stroke="#000" stroke-width="1.15" stroke-linejoin="round"/>
<line x1="406.60" y1="103.7" x2="406.60" y2="100.3" stroke="#262626" stroke-width="1"/>
<line x1="406.60" y1="28.5" x2="406.60" y2="31.9" stroke="#262626" stroke-width="1"/>
<line x1="433.10" y1="103.7" x2="433.10" y2="101.60000000000001" stroke="#262626" stroke-width="1"/>
<line x1="433.10" y1="28.5" x2="433.10" y2="30.6" stroke="#262626" stroke-width="1"/>
<line x1="448.60" y1="103.7" x2="448.60" y2="101.60000000000001" stroke="#262626" stroke-width="1"/>
<line x1="448.60" y1="28.5" x2="448.60" y2="30.6" stroke="#262626" stroke-width="1"/>
<line x1="459.60" y1="103.7" x2="459.60" y2="101.60000000000001" stroke="#262626" stroke-width="1"/>
<line x1="459.60" y1="28.5" x2="459.60" y2="30.6" stroke="#262626" stroke-width="1"/>
<line x1="468.13" y1="103.7" x2="468.13" y2="101.60000000000001" stroke="#262626" stroke-width="1"/>
<line x1="468.13" y1="28.5" x2="468.13" y2="30.6" stroke="#262626" stroke-width="1"/>
<line x1="475.10" y1="103.7" x2="475.10" y2="101.60000000000001" stroke="#262626" stroke-width="1"/>
<line x1="475.10" y1="28.5" x2="475.10" y2="30.6" stroke="#262626" stroke-width="1"/>
<line x1="481.00" y1="103.7" x2="481.00" y2="101.60000000000001" stroke="#262626" stroke-width="1"/>
<line x1="481.00" y1="28.5" x2="481.00" y2="30.6" stroke="#262626" stroke-width="1"/>
<line x1="486.10" y1="103.7" x2="486.10" y2="101.60000000000001" stroke="#262626" stroke-width="1"/>
<line x1="486.10" y1="28.5" x2="486.10" y2="30.6" stroke="#262626" stroke-width="1"/>
<line x1="490.61" y1="103.7" x2="490.61" y2="101.60000000000001" stroke="#262626" stroke-width="1"/>
<line x1="490.61" y1="28.5" x2="490.61" y2="30.6" stroke="#262626" stroke-width="1"/>
<line x1="494.63" y1="103.7" x2="494.63" y2="100.3" stroke="#262626" stroke-width="1"/>
<line x1="494.63" y1="28.5" x2="494.63" y2="31.9" stroke="#262626" stroke-width="1"/>
<line x1="521.13" y1="103.7" x2="521.13" y2="101.60000000000001" stroke="#262626" stroke-width="1"/>
<line x1="521.13" y1="28.5" x2="521.13" y2="30.6" stroke="#262626" stroke-width="1"/>
<line x1="536.64" y1="103.7" x2="536.64" y2="101.60000000000001" stroke="#262626" stroke-width="1"/>
<line x1="536.64" y1="28.5" x2="536.64" y2="30.6" stroke="#262626" stroke-width="1"/>
<line x1="547.63" y1="103.7" x2="547.63" y2="101.60000000000001" stroke="#262626" stroke-width="1"/>
<line x1="547.63" y1="28.5" x2="547.63" y2="30.6" stroke="#262626" stroke-width="1"/>
<line x1="556.17" y1="103.7" x2="556.17" y2="101.60000000000001" stroke="#262626" stroke-width="1"/>
<line x1="556.17" y1="28.5" x2="556.17" y2="30.6" stroke="#262626" stroke-width="1"/>
<line x1="563.14" y1="103.7" x2="563.14" y2="101.60000000000001" stroke="#262626" stroke-width="1"/>
<line x1="563.14" y1="28.5" x2="563.14" y2="30.6" stroke="#262626" stroke-width="1"/>
<line x1="569.03" y1="103.7" x2="569.03" y2="101.60000000000001" stroke="#262626" stroke-width="1"/>
<line x1="569.03" y1="28.5" x2="569.03" y2="30.6" stroke="#262626" stroke-width="1"/>
<line x1="574.14" y1="103.7" x2="574.14" y2="101.60000000000001" stroke="#262626" stroke-width="1"/>
<line x1="574.14" y1="28.5" x2="574.14" y2="30.6" stroke="#262626" stroke-width="1"/>
<line x1="578.64" y1="103.7" x2="578.64" y2="101.60000000000001" stroke="#262626" stroke-width="1"/>
<line x1="578.64" y1="28.5" x2="578.64" y2="30.6" stroke="#262626" stroke-width="1"/>
<line x1="582.67" y1="103.7" x2="582.67" y2="100.3" stroke="#262626" stroke-width="1"/>
<line x1="582.67" y1="28.5" x2="582.67" y2="31.9" stroke="#262626" stroke-width="1"/>
<line x1="609.17" y1="103.7" x2="609.17" y2="101.60000000000001" stroke="#262626" stroke-width="1"/>
<line x1="609.17" y1="28.5" x2="609.17" y2="30.6" stroke="#262626" stroke-width="1"/>
<line x1="624.67" y1="103.7" x2="624.67" y2="101.60000000000001" stroke="#262626" stroke-width="1"/>
<line x1="624.67" y1="28.5" x2="624.67" y2="30.6" stroke="#262626" stroke-width="1"/>
<line x1="635.67" y1="103.7" x2="635.67" y2="101.60000000000001" stroke="#262626" stroke-width="1"/>
<line x1="635.67" y1="28.5" x2="635.67" y2="30.6" stroke="#262626" stroke-width="1"/>
<line x1="644.20" y1="103.7" x2="644.20" y2="101.60000000000001" stroke="#262626" stroke-width="1"/>
<line x1="644.20" y1="28.5" x2="644.20" y2="30.6" stroke="#262626" stroke-width="1"/>
<line x1="651.17" y1="103.7" x2="651.17" y2="101.60000000000001" stroke="#262626" stroke-width="1"/>
<line x1="651.17" y1="28.5" x2="651.17" y2="30.6" stroke="#262626" stroke-width="1"/>
<line x1="657.06" y1="103.7" x2="657.06" y2="101.60000000000001" stroke="#262626" stroke-width="1"/>
<line x1="657.06" y1="28.5" x2="657.06" y2="30.6" stroke="#262626" stroke-width="1"/>
<line x1="662.17" y1="103.7" x2="662.17" y2="101.60000000000001" stroke="#262626" stroke-width="1"/>
<line x1="662.17" y1="28.5" x2="662.17" y2="30.6" stroke="#262626" stroke-width="1"/>
<line x1="666.67" y1="103.7" x2="666.67" y2="101.60000000000001" stroke="#262626" stroke-width="1"/>
<line x1="666.67" y1="28.5" x2="666.67" y2="30.6" stroke="#262626" stroke-width="1"/>
<line x1="406.6" y1="28.50" x2="410.0" y2="28.50" stroke="#262626" stroke-width="1"/>
<line x1="670.7" y1="28.50" x2="667.3000000000001" y2="28.50" stroke="#262626" stroke-width="1"/>
<text x="402.0" y="34.80" text-anchor="end" class="b">0</text>
<line x1="406.6" y1="53.57" x2="410.0" y2="53.57" stroke="#262626" stroke-width="1"/>
<line x1="670.7" y1="53.57" x2="667.3000000000001" y2="53.57" stroke="#262626" stroke-width="1"/>
<text x="402.0" y="59.87" text-anchor="end" class="b">-20</text>
<line x1="406.6" y1="78.63" x2="410.0" y2="78.63" stroke="#262626" stroke-width="1"/>
<line x1="670.7" y1="78.63" x2="667.3000000000001" y2="78.63" stroke="#262626" stroke-width="1"/>
<text x="402.0" y="84.93" text-anchor="end" class="b">-40</text>
<line x1="406.6" y1="103.70" x2="410.0" y2="103.70" stroke="#262626" stroke-width="1"/>
<line x1="670.7" y1="103.70" x2="667.3000000000001" y2="103.70" stroke="#262626" stroke-width="1"/>
<text x="402.0" y="110.00" text-anchor="end" class="b">-60</text>
<rect x="406.6" y="28.5" width="264.1" height="75.2" fill="none" stroke="#3c3c3c" stroke-width="1.2"/>
<text x="407.10" y="129.20" text-anchor="middle" class="b">10<tspan dy="-7.1" class="e">-1</tspan></text>
<text x="495.13" y="129.20" text-anchor="middle" class="b">10<tspan dy="-7.1" class="e">0</tspan></text>
<text x="583.17" y="129.20" text-anchor="middle" class="b">10<tspan dy="-7.1" class="e">1</tspan></text>
<text x="671.20" y="129.20" text-anchor="middle" class="b">10<tspan dy="-7.1" class="e">2</tspan></text>
<text transform="translate(371.1,65.3) rotate(-90)" text-anchor="middle" class="b l">Mag. (dB)</text>
<rect x="406.6" y="149.5" width="264.1" height="75.0" fill="#fff"/>
<line x1="433.10" y1="150" x2="433.10" y2="224.5" stroke="#adadad" stroke-width="0.9" stroke-dasharray="1 1"/>
<line x1="448.60" y1="150" x2="448.60" y2="224.5" stroke="#adadad" stroke-width="0.9" stroke-dasharray="1 1"/>
<line x1="459.60" y1="150" x2="459.60" y2="224.5" stroke="#adadad" stroke-width="0.9" stroke-dasharray="1 1"/>
<line x1="468.13" y1="150" x2="468.13" y2="224.5" stroke="#adadad" stroke-width="0.9" stroke-dasharray="1 1"/>
<line x1="475.10" y1="150" x2="475.10" y2="224.5" stroke="#adadad" stroke-width="0.9" stroke-dasharray="1 1"/>
<line x1="481.00" y1="150" x2="481.00" y2="224.5" stroke="#adadad" stroke-width="0.9" stroke-dasharray="1 1"/>
<line x1="486.10" y1="150" x2="486.10" y2="224.5" stroke="#adadad" stroke-width="0.9" stroke-dasharray="1 1"/>
<line x1="490.61" y1="150" x2="490.61" y2="224.5" stroke="#adadad" stroke-width="0.9" stroke-dasharray="1 1"/>
<line x1="521.13" y1="150" x2="521.13" y2="224.5" stroke="#adadad" stroke-width="0.9" stroke-dasharray="1 1"/>
<line x1="536.64" y1="150" x2="536.64" y2="224.5" stroke="#adadad" stroke-width="0.9" stroke-dasharray="1 1"/>
<line x1="547.63" y1="150" x2="547.63" y2="224.5" stroke="#adadad" stroke-width="0.9" stroke-dasharray="1 1"/>
<line x1="556.17" y1="150" x2="556.17" y2="224.5" stroke="#adadad" stroke-width="0.9" stroke-dasharray="1 1"/>
<line x1="563.14" y1="150" x2="563.14" y2="224.5" stroke="#adadad" stroke-width="0.9" stroke-dasharray="1 1"/>
<line x1="569.03" y1="150" x2="569.03" y2="224.5" stroke="#adadad" stroke-width="0.9" stroke-dasharray="1 1"/>
<line x1="574.14" y1="150" x2="574.14" y2="224.5" stroke="#adadad" stroke-width="0.9" stroke-dasharray="1 1"/>
<line x1="578.64" y1="150" x2="578.64" y2="224.5" stroke="#adadad" stroke-width="0.9" stroke-dasharray="1 1"/>
<line x1="609.17" y1="150" x2="609.17" y2="224.5" stroke="#adadad" stroke-width="0.9" stroke-dasharray="1 1"/>
<line x1="624.67" y1="150" x2="624.67" y2="224.5" stroke="#adadad" stroke-width="0.9" stroke-dasharray="1 1"/>
<line x1="635.67" y1="150" x2="635.67" y2="224.5" stroke="#adadad" stroke-width="0.9" stroke-dasharray="1 1"/>
<line x1="644.20" y1="150" x2="644.20" y2="224.5" stroke="#adadad" stroke-width="0.9" stroke-dasharray="1 1"/>
<line x1="651.17" y1="150" x2="651.17" y2="224.5" stroke="#adadad" stroke-width="0.9" stroke-dasharray="1 1"/>
<line x1="657.06" y1="150" x2="657.06" y2="224.5" stroke="#adadad" stroke-width="0.9" stroke-dasharray="1 1"/>
<line x1="662.17" y1="150" x2="662.17" y2="224.5" stroke="#adadad" stroke-width="0.9" stroke-dasharray="1 1"/>
<line x1="666.67" y1="150" x2="666.67" y2="224.5" stroke="#adadad" stroke-width="0.9" stroke-dasharray="1 1"/>
<line x1="494.63" y1="149.5" x2="494.63" y2="224.5" stroke="#e2e2e2" stroke-width="1"/>
<line x1="582.67" y1="149.5" x2="582.67" y2="224.5" stroke="#e2e2e2" stroke-width="1"/>
<line x1="406.6" y1="174.50" x2="670.7" y2="174.50" stroke="#e2e2e2" stroke-width="1"/>
<line x1="406.6" y1="199.50" x2="670.7" y2="199.50" stroke="#e2e2e2" stroke-width="1"/>
<polyline points="483.3,199.0 491.6,199.3 499.1,198.5 507.4,196.6 515.7,194.0 524.8,187.5 530.8,180.9 536.8,174.4 542.9,167.6 548.1,163.1 554.9,159.3 563.2,157.1 570.0,158.6 571.8,158.6 580.1,158.9 587.6,160.4 595.9,163.1 604.2,165.4 613.3,168.4 620.0,171.4 627.6,175.2 635.6,177.9" fill="none" stroke="#000" stroke-width="1.15" stroke-linejoin="round" stroke-dasharray="5.3 3"/>
<polyline points="483.3,198.5 491.6,199.3 499.1,198.5 507.4,196.3 515.0,194.8 523.3,190.2 531.6,184.5 536.1,175.9 541.4,168.4 547.4,160.5 554.9,158.6 563.2,156.3 570.0,158.3 571.8,159.3 580.1,159.0 587.6,154.8 595.2,161.6 602.7,167.6 611.0,170.9 619.3,171.4 626.8,175.9 635.6,181.2" fill="none" stroke="#000" stroke-width="1.15" stroke-linejoin="round"/>
<line x1="406.60" y1="224.5" x2="406.60" y2="221.1" stroke="#262626" stroke-width="1"/>
<line x1="406.60" y1="149.5" x2="406.60" y2="152.9" stroke="#262626" stroke-width="1"/>
<line x1="433.10" y1="224.5" x2="433.10" y2="222.4" stroke="#262626" stroke-width="1"/>
<line x1="433.10" y1="149.5" x2="433.10" y2="151.6" stroke="#262626" stroke-width="1"/>
<line x1="448.60" y1="224.5" x2="448.60" y2="222.4" stroke="#262626" stroke-width="1"/>
<line x1="448.60" y1="149.5" x2="448.60" y2="151.6" stroke="#262626" stroke-width="1"/>
<line x1="459.60" y1="224.5" x2="459.60" y2="222.4" stroke="#262626" stroke-width="1"/>
<line x1="459.60" y1="149.5" x2="459.60" y2="151.6" stroke="#262626" stroke-width="1"/>
<line x1="468.13" y1="224.5" x2="468.13" y2="222.4" stroke="#262626" stroke-width="1"/>
<line x1="468.13" y1="149.5" x2="468.13" y2="151.6" stroke="#262626" stroke-width="1"/>
<line x1="475.10" y1="224.5" x2="475.10" y2="222.4" stroke="#262626" stroke-width="1"/>
<line x1="475.10" y1="149.5" x2="475.10" y2="151.6" stroke="#262626" stroke-width="1"/>
<line x1="481.00" y1="224.5" x2="481.00" y2="222.4" stroke="#262626" stroke-width="1"/>
<line x1="481.00" y1="149.5" x2="481.00" y2="151.6" stroke="#262626" stroke-width="1"/>
<line x1="486.10" y1="224.5" x2="486.10" y2="222.4" stroke="#262626" stroke-width="1"/>
<line x1="486.10" y1="149.5" x2="486.10" y2="151.6" stroke="#262626" stroke-width="1"/>
<line x1="490.61" y1="224.5" x2="490.61" y2="222.4" stroke="#262626" stroke-width="1"/>
<line x1="490.61" y1="149.5" x2="490.61" y2="151.6" stroke="#262626" stroke-width="1"/>
<line x1="494.63" y1="224.5" x2="494.63" y2="221.1" stroke="#262626" stroke-width="1"/>
<line x1="494.63" y1="149.5" x2="494.63" y2="152.9" stroke="#262626" stroke-width="1"/>
<line x1="521.13" y1="224.5" x2="521.13" y2="222.4" stroke="#262626" stroke-width="1"/>
<line x1="521.13" y1="149.5" x2="521.13" y2="151.6" stroke="#262626" stroke-width="1"/>
<line x1="536.64" y1="224.5" x2="536.64" y2="222.4" stroke="#262626" stroke-width="1"/>
<line x1="536.64" y1="149.5" x2="536.64" y2="151.6" stroke="#262626" stroke-width="1"/>
<line x1="547.63" y1="224.5" x2="547.63" y2="222.4" stroke="#262626" stroke-width="1"/>
<line x1="547.63" y1="149.5" x2="547.63" y2="151.6" stroke="#262626" stroke-width="1"/>
<line x1="556.17" y1="224.5" x2="556.17" y2="222.4" stroke="#262626" stroke-width="1"/>
<line x1="556.17" y1="149.5" x2="556.17" y2="151.6" stroke="#262626" stroke-width="1"/>
<line x1="563.14" y1="224.5" x2="563.14" y2="222.4" stroke="#262626" stroke-width="1"/>
<line x1="563.14" y1="149.5" x2="563.14" y2="151.6" stroke="#262626" stroke-width="1"/>
<line x1="569.03" y1="224.5" x2="569.03" y2="222.4" stroke="#262626" stroke-width="1"/>
<line x1="569.03" y1="149.5" x2="569.03" y2="151.6" stroke="#262626" stroke-width="1"/>
<line x1="574.14" y1="224.5" x2="574.14" y2="222.4" stroke="#262626" stroke-width="1"/>
<line x1="574.14" y1="149.5" x2="574.14" y2="151.6" stroke="#262626" stroke-width="1"/>
<line x1="578.64" y1="224.5" x2="578.64" y2="222.4" stroke="#262626" stroke-width="1"/>
<line x1="578.64" y1="149.5" x2="578.64" y2="151.6" stroke="#262626" stroke-width="1"/>
<line x1="582.67" y1="224.5" x2="582.67" y2="221.1" stroke="#262626" stroke-width="1"/>
<line x1="582.67" y1="149.5" x2="582.67" y2="152.9" stroke="#262626" stroke-width="1"/>
<line x1="609.17" y1="224.5" x2="609.17" y2="222.4" stroke="#262626" stroke-width="1"/>
<line x1="609.17" y1="149.5" x2="609.17" y2="151.6" stroke="#262626" stroke-width="1"/>
<line x1="624.67" y1="224.5" x2="624.67" y2="222.4" stroke="#262626" stroke-width="1"/>
<line x1="624.67" y1="149.5" x2="624.67" y2="151.6" stroke="#262626" stroke-width="1"/>
<line x1="635.67" y1="224.5" x2="635.67" y2="222.4" stroke="#262626" stroke-width="1"/>
<line x1="635.67" y1="149.5" x2="635.67" y2="151.6" stroke="#262626" stroke-width="1"/>
<line x1="644.20" y1="224.5" x2="644.20" y2="222.4" stroke="#262626" stroke-width="1"/>
<line x1="644.20" y1="149.5" x2="644.20" y2="151.6" stroke="#262626" stroke-width="1"/>
<line x1="651.17" y1="224.5" x2="651.17" y2="222.4" stroke="#262626" stroke-width="1"/>
<line x1="651.17" y1="149.5" x2="651.17" y2="151.6" stroke="#262626" stroke-width="1"/>
<line x1="657.06" y1="224.5" x2="657.06" y2="222.4" stroke="#262626" stroke-width="1"/>
<line x1="657.06" y1="149.5" x2="657.06" y2="151.6" stroke="#262626" stroke-width="1"/>
<line x1="662.17" y1="224.5" x2="662.17" y2="222.4" stroke="#262626" stroke-width="1"/>
<line x1="662.17" y1="149.5" x2="662.17" y2="151.6" stroke="#262626" stroke-width="1"/>
<line x1="666.67" y1="224.5" x2="666.67" y2="222.4" stroke="#262626" stroke-width="1"/>
<line x1="666.67" y1="149.5" x2="666.67" y2="151.6" stroke="#262626" stroke-width="1"/>
<line x1="406.6" y1="149.50" x2="410.0" y2="149.50" stroke="#262626" stroke-width="1"/>
<line x1="670.7" y1="149.50" x2="667.3000000000001" y2="149.50" stroke="#262626" stroke-width="1"/>
<text x="402.0" y="155.80" text-anchor="end" class="b">180</text>
<line x1="406.6" y1="174.50" x2="410.0" y2="174.50" stroke="#262626" stroke-width="1"/>
<line x1="670.7" y1="174.50" x2="667.3000000000001" y2="174.50" stroke="#262626" stroke-width="1"/>
<text x="402.0" y="180.80" text-anchor="end" class="b">90</text>
<line x1="406.6" y1="199.50" x2="410.0" y2="199.50" stroke="#262626" stroke-width="1"/>
<line x1="670.7" y1="199.50" x2="667.3000000000001" y2="199.50" stroke="#262626" stroke-width="1"/>
<text x="402.0" y="205.80" text-anchor="end" class="b">0</text>
<line x1="406.6" y1="224.50" x2="410.0" y2="224.50" stroke="#262626" stroke-width="1"/>
<line x1="670.7" y1="224.50" x2="667.3000000000001" y2="224.50" stroke="#262626" stroke-width="1"/>
<text x="402.0" y="230.80" text-anchor="end" class="b">-90</text>
<rect x="406.6" y="149.5" width="264.1" height="75.0" fill="none" stroke="#3c3c3c" stroke-width="1.2"/>
<text x="407.10" y="250.00" text-anchor="middle" class="b">10<tspan dy="-7.1" class="e">-1</tspan></text>
<text x="495.13" y="250.00" text-anchor="middle" class="b">10<tspan dy="-7.1" class="e">0</tspan></text>
<text x="583.17" y="250.00" text-anchor="middle" class="b">10<tspan dy="-7.1" class="e">1</tspan></text>
<text x="671.20" y="250.00" text-anchor="middle" class="b">10<tspan dy="-7.1" class="e">2</tspan></text>
<text transform="translate(368.6,186.2) rotate(-90)" text-anchor="middle" class="b l">Phase (deg)</text>
<rect x="406.6" y="269.6" width="264.1" height="75.69999999999999" fill="#fff"/>
<line x1="433.10" y1="270" x2="433.10" y2="345.3" stroke="#adadad" stroke-width="0.9" stroke-dasharray="1 1"/>
<line x1="448.60" y1="270" x2="448.60" y2="345.3" stroke="#adadad" stroke-width="0.9" stroke-dasharray="1 1"/>
<line x1="459.60" y1="270" x2="459.60" y2="345.3" stroke="#adadad" stroke-width="0.9" stroke-dasharray="1 1"/>
<line x1="468.13" y1="270" x2="468.13" y2="345.3" stroke="#adadad" stroke-width="0.9" stroke-dasharray="1 1"/>
<line x1="475.10" y1="270" x2="475.10" y2="345.3" stroke="#adadad" stroke-width="0.9" stroke-dasharray="1 1"/>
<line x1="481.00" y1="270" x2="481.00" y2="345.3" stroke="#adadad" stroke-width="0.9" stroke-dasharray="1 1"/>
<line x1="486.10" y1="270" x2="486.10" y2="345.3" stroke="#adadad" stroke-width="0.9" stroke-dasharray="1 1"/>
<line x1="490.61" y1="270" x2="490.61" y2="345.3" stroke="#adadad" stroke-width="0.9" stroke-dasharray="1 1"/>
<line x1="521.13" y1="270" x2="521.13" y2="345.3" stroke="#adadad" stroke-width="0.9" stroke-dasharray="1 1"/>
<line x1="536.64" y1="270" x2="536.64" y2="345.3" stroke="#adadad" stroke-width="0.9" stroke-dasharray="1 1"/>
<line x1="547.63" y1="270" x2="547.63" y2="345.3" stroke="#adadad" stroke-width="0.9" stroke-dasharray="1 1"/>
<line x1="556.17" y1="270" x2="556.17" y2="345.3" stroke="#adadad" stroke-width="0.9" stroke-dasharray="1 1"/>
<line x1="563.14" y1="270" x2="563.14" y2="345.3" stroke="#adadad" stroke-width="0.9" stroke-dasharray="1 1"/>
<line x1="569.03" y1="270" x2="569.03" y2="345.3" stroke="#adadad" stroke-width="0.9" stroke-dasharray="1 1"/>
<line x1="574.14" y1="270" x2="574.14" y2="345.3" stroke="#adadad" stroke-width="0.9" stroke-dasharray="1 1"/>
<line x1="578.64" y1="270" x2="578.64" y2="345.3" stroke="#adadad" stroke-width="0.9" stroke-dasharray="1 1"/>
<line x1="609.17" y1="270" x2="609.17" y2="345.3" stroke="#adadad" stroke-width="0.9" stroke-dasharray="1 1"/>
<line x1="624.67" y1="270" x2="624.67" y2="345.3" stroke="#adadad" stroke-width="0.9" stroke-dasharray="1 1"/>
<line x1="635.67" y1="270" x2="635.67" y2="345.3" stroke="#adadad" stroke-width="0.9" stroke-dasharray="1 1"/>
<line x1="644.20" y1="270" x2="644.20" y2="345.3" stroke="#adadad" stroke-width="0.9" stroke-dasharray="1 1"/>
<line x1="651.17" y1="270" x2="651.17" y2="345.3" stroke="#adadad" stroke-width="0.9" stroke-dasharray="1 1"/>
<line x1="657.06" y1="270" x2="657.06" y2="345.3" stroke="#adadad" stroke-width="0.9" stroke-dasharray="1 1"/>
<line x1="662.17" y1="270" x2="662.17" y2="345.3" stroke="#adadad" stroke-width="0.9" stroke-dasharray="1 1"/>
<line x1="666.67" y1="270" x2="666.67" y2="345.3" stroke="#adadad" stroke-width="0.9" stroke-dasharray="1 1"/>
<line x1="494.63" y1="269.6" x2="494.63" y2="345.3" stroke="#e2e2e2" stroke-width="1"/>
<line x1="582.67" y1="269.6" x2="582.67" y2="345.3" stroke="#e2e2e2" stroke-width="1"/>
<line x1="406.6" y1="307.45" x2="670.7" y2="307.45" stroke="#e2e2e2" stroke-width="1"/>
<polyline points="483.0,270.3 491.1,271.1 499.1,274.4 507.1,276.6 515.1,280.5 523.2,283.9 531.2,294.4 539.2,287.1 547.3,280.2 555.3,272.2 563.3,273.7 571.4,286.5 579.6,284.9 587.6,290.5 595.7,298.1 603.7,281.3 611.7,278.1 619.7,284.6 627.8,276.3 635.8,279.1" fill="none" stroke="#000" stroke-width="1.15" stroke-linejoin="round"/>
<line x1="406.60" y1="345.3" x2="406.60" y2="341.90000000000003" stroke="#262626" stroke-width="1"/>
<line x1="406.60" y1="269.6" x2="406.60" y2="273.0" stroke="#262626" stroke-width="1"/>
<line x1="433.10" y1="345.3" x2="433.10" y2="343.2" stroke="#262626" stroke-width="1"/>
<line x1="433.10" y1="269.6" x2="433.10" y2="271.70000000000005" stroke="#262626" stroke-width="1"/>
<line x1="448.60" y1="345.3" x2="448.60" y2="343.2" stroke="#262626" stroke-width="1"/>
<line x1="448.60" y1="269.6" x2="448.60" y2="271.70000000000005" stroke="#262626" stroke-width="1"/>
<line x1="459.60" y1="345.3" x2="459.60" y2="343.2" stroke="#262626" stroke-width="1"/>
<line x1="459.60" y1="269.6" x2="459.60" y2="271.70000000000005" stroke="#262626" stroke-width="1"/>
<line x1="468.13" y1="345.3" x2="468.13" y2="343.2" stroke="#262626" stroke-width="1"/>
<line x1="468.13" y1="269.6" x2="468.13" y2="271.70000000000005" stroke="#262626" stroke-width="1"/>
<line x1="475.10" y1="345.3" x2="475.10" y2="343.2" stroke="#262626" stroke-width="1"/>
<line x1="475.10" y1="269.6" x2="475.10" y2="271.70000000000005" stroke="#262626" stroke-width="1"/>
<line x1="481.00" y1="345.3" x2="481.00" y2="343.2" stroke="#262626" stroke-width="1"/>
<line x1="481.00" y1="269.6" x2="481.00" y2="271.70000000000005" stroke="#262626" stroke-width="1"/>
<line x1="486.10" y1="345.3" x2="486.10" y2="343.2" stroke="#262626" stroke-width="1"/>
<line x1="486.10" y1="269.6" x2="486.10" y2="271.70000000000005" stroke="#262626" stroke-width="1"/>
<line x1="490.61" y1="345.3" x2="490.61" y2="343.2" stroke="#262626" stroke-width="1"/>
<line x1="490.61" y1="269.6" x2="490.61" y2="271.70000000000005" stroke="#262626" stroke-width="1"/>
<line x1="494.63" y1="345.3" x2="494.63" y2="341.90000000000003" stroke="#262626" stroke-width="1"/>
<line x1="494.63" y1="269.6" x2="494.63" y2="273.0" stroke="#262626" stroke-width="1"/>
<line x1="521.13" y1="345.3" x2="521.13" y2="343.2" stroke="#262626" stroke-width="1"/>
<line x1="521.13" y1="269.6" x2="521.13" y2="271.70000000000005" stroke="#262626" stroke-width="1"/>
<line x1="536.64" y1="345.3" x2="536.64" y2="343.2" stroke="#262626" stroke-width="1"/>
<line x1="536.64" y1="269.6" x2="536.64" y2="271.70000000000005" stroke="#262626" stroke-width="1"/>
<line x1="547.63" y1="345.3" x2="547.63" y2="343.2" stroke="#262626" stroke-width="1"/>
<line x1="547.63" y1="269.6" x2="547.63" y2="271.70000000000005" stroke="#262626" stroke-width="1"/>
<line x1="556.17" y1="345.3" x2="556.17" y2="343.2" stroke="#262626" stroke-width="1"/>
<line x1="556.17" y1="269.6" x2="556.17" y2="271.70000000000005" stroke="#262626" stroke-width="1"/>
<line x1="563.14" y1="345.3" x2="563.14" y2="343.2" stroke="#262626" stroke-width="1"/>
<line x1="563.14" y1="269.6" x2="563.14" y2="271.70000000000005" stroke="#262626" stroke-width="1"/>
<line x1="569.03" y1="345.3" x2="569.03" y2="343.2" stroke="#262626" stroke-width="1"/>
<line x1="569.03" y1="269.6" x2="569.03" y2="271.70000000000005" stroke="#262626" stroke-width="1"/>
<line x1="574.14" y1="345.3" x2="574.14" y2="343.2" stroke="#262626" stroke-width="1"/>
<line x1="574.14" y1="269.6" x2="574.14" y2="271.70000000000005" stroke="#262626" stroke-width="1"/>
<line x1="578.64" y1="345.3" x2="578.64" y2="343.2" stroke="#262626" stroke-width="1"/>
<line x1="578.64" y1="269.6" x2="578.64" y2="271.70000000000005" stroke="#262626" stroke-width="1"/>
<line x1="582.67" y1="345.3" x2="582.67" y2="341.90000000000003" stroke="#262626" stroke-width="1"/>
<line x1="582.67" y1="269.6" x2="582.67" y2="273.0" stroke="#262626" stroke-width="1"/>
<line x1="609.17" y1="345.3" x2="609.17" y2="343.2" stroke="#262626" stroke-width="1"/>
<line x1="609.17" y1="269.6" x2="609.17" y2="271.70000000000005" stroke="#262626" stroke-width="1"/>
<line x1="624.67" y1="345.3" x2="624.67" y2="343.2" stroke="#262626" stroke-width="1"/>
<line x1="624.67" y1="269.6" x2="624.67" y2="271.70000000000005" stroke="#262626" stroke-width="1"/>
<line x1="635.67" y1="345.3" x2="635.67" y2="343.2" stroke="#262626" stroke-width="1"/>
<line x1="635.67" y1="269.6" x2="635.67" y2="271.70000000000005" stroke="#262626" stroke-width="1"/>
<line x1="644.20" y1="345.3" x2="644.20" y2="343.2" stroke="#262626" stroke-width="1"/>
<line x1="644.20" y1="269.6" x2="644.20" y2="271.70000000000005" stroke="#262626" stroke-width="1"/>
<line x1="651.17" y1="345.3" x2="651.17" y2="343.2" stroke="#262626" stroke-width="1"/>
<line x1="651.17" y1="269.6" x2="651.17" y2="271.70000000000005" stroke="#262626" stroke-width="1"/>
<line x1="657.06" y1="345.3" x2="657.06" y2="343.2" stroke="#262626" stroke-width="1"/>
<line x1="657.06" y1="269.6" x2="657.06" y2="271.70000000000005" stroke="#262626" stroke-width="1"/>
<line x1="662.17" y1="345.3" x2="662.17" y2="343.2" stroke="#262626" stroke-width="1"/>
<line x1="662.17" y1="269.6" x2="662.17" y2="271.70000000000005" stroke="#262626" stroke-width="1"/>
<line x1="666.67" y1="345.3" x2="666.67" y2="343.2" stroke="#262626" stroke-width="1"/>
<line x1="666.67" y1="269.6" x2="666.67" y2="271.70000000000005" stroke="#262626" stroke-width="1"/>
<line x1="406.6" y1="269.60" x2="410.0" y2="269.60" stroke="#262626" stroke-width="1"/>
<line x1="670.7" y1="269.60" x2="667.3000000000001" y2="269.60" stroke="#262626" stroke-width="1"/>
<text x="402.0" y="275.90" text-anchor="end" class="b">1</text>
<line x1="406.6" y1="307.45" x2="410.0" y2="307.45" stroke="#262626" stroke-width="1"/>
<line x1="670.7" y1="307.45" x2="667.3000000000001" y2="307.45" stroke="#262626" stroke-width="1"/>
<text x="402.0" y="313.75" text-anchor="end" class="b">0.5</text>
<line x1="406.6" y1="345.30" x2="410.0" y2="345.30" stroke="#262626" stroke-width="1"/>
<line x1="670.7" y1="345.30" x2="667.3000000000001" y2="345.30" stroke="#262626" stroke-width="1"/>
<text x="402.0" y="351.60" text-anchor="end" class="b">0</text>
<rect x="406.6" y="269.6" width="264.1" height="75.69999999999999" fill="none" stroke="#3c3c3c" stroke-width="1.2"/>
<text x="407.10" y="370.80" text-anchor="middle" class="b">10<tspan dy="-7.1" class="e">-1</tspan></text>
<text x="495.13" y="370.80" text-anchor="middle" class="b">10<tspan dy="-7.1" class="e">0</tspan></text>
<text x="583.17" y="370.80" text-anchor="middle" class="b">10<tspan dy="-7.1" class="e">1</tspan></text>
<text x="671.20" y="370.80" text-anchor="middle" class="b">10<tspan dy="-7.1" class="e">2</tspan></text>
<text transform="translate(373.3,306.65000000000003) rotate(-90)" text-anchor="middle" class="b l">Coherence</text>
<text x="538.6500000000001" y="392.4" text-anchor="middle" class="b l" style="letter-spacing:0.45px">Frequency (rad/sec)</text>
<text x="169" y="13.9" class="t">q</text>
<text transform="translate(179,13.9) skewX(-10)" class="t">/</text>
<text x="185.7" y="13.9" class="t"><tspan class="d">δ</tspan><tspan dy="9.2" dx="0.4" class="s">lon</tspan></text>
<text x="512.6" y="13.9" class="t">a<tspan dy="9.4" dx="-0.2" class="s">x</tspan></text>
<text transform="translate(529.7,13.9) skewX(-10)" class="t">/</text>
<text x="536.2" y="13.9" class="t"><tspan class="d">δ</tspan><tspan dy="9.2" class="s">lon</tspan></text>
<rect x="63.3" y="61.9" width="66" height="38.1" fill="#fff" stroke="#3c3c3c" stroke-width="1.15"/>
<line x1="65.4" y1="71.9" x2="81.6" y2="71.9" stroke="#000" stroke-width="1.1" stroke-dasharray="5.3 3"/>
<line x1="65.4" y1="89.9" x2="81.6" y2="89.9" stroke="#000" stroke-width="1.1"/>
<text x="83.2" y="77.8" class="b g">Model</text>
<text x="83.2" y="95.8" class="b g">Data</text>
</svg>
</body></html>
